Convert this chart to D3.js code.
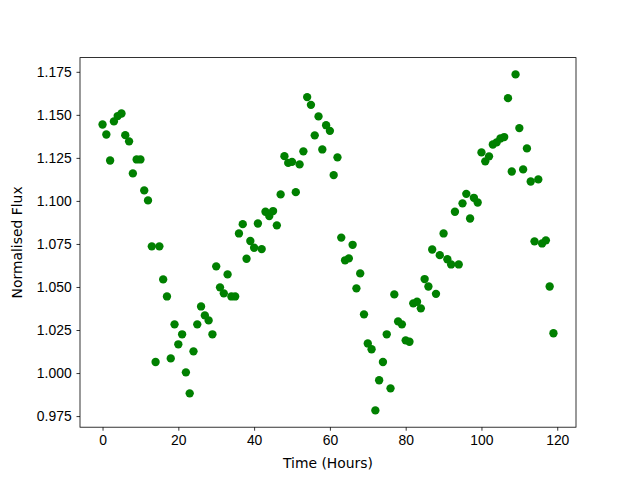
<!DOCTYPE html>
<html>
<head>
<meta charset="utf-8">
<script src="https://cdn.jsdelivr.net/npm/d3@7"></script>
<style>
  body { margin: 0; background: #fff; }
  svg { display: block; font-family: "DejaVu Sans", sans-serif; }
  .tick text { font-size: 13.9px; fill: #000; }
  .tick line { stroke: #000; stroke-width: 0.8; }
</style>
</head>
<body>
<svg id="chart" width="640" height="480"></svg>
<script>
// time in hours
const hours = [
  0, 1, 2, 3, 4, 5, 6, 7, 8, 9, 10, 11, 12, 13, 14, 15, 16, 17, 18, 19,
  20, 21, 22, 23, 24, 25, 26, 27, 28, 29, 30, 31, 32, 33, 34, 35, 36, 37, 38, 39,
  40, 41, 42, 43, 44, 45, 46, 47, 48, 49, 50, 51, 52, 53, 54, 55, 56, 57, 58, 59,
  60, 61, 62, 63, 64, 65, 66, 67, 68, 69, 70, 71, 72, 73, 74, 75, 76, 77, 78, 79,
  80, 81, 82, 83, 84, 85, 86, 87, 88, 89, 90, 91, 92, 93, 94, 95, 96, 97, 98, 99,
  100, 101, 102, 103, 104, 105, 106, 107, 108, 109, 110, 111, 112, 113, 114, 115, 116, 117, 118, 119
];

// normalised flux
const flux = [
  1.1444, 1.1386, 1.1235, 1.1462, 1.1493, 1.1508, 1.1382, 1.1346, 1.1160, 1.1241,
  1.1241, 1.1061, 1.1003, 1.0736, 1.0064, 1.0736, 1.0544, 1.0445, 1.0085, 1.0283,
  1.0167, 1.0225, 1.0004, 0.9882, 1.0126, 1.0283, 1.0387, 1.0335, 1.0306, 1.0225,
  1.0620, 1.0498, 1.0463, 1.0573, 1.0445, 1.0445, 1.0811, 1.0865, 1.0664, 1.0767,
  1.0728, 1.0869, 1.0720, 1.0937, 1.0912, 1.0941, 1.0858, 1.1038, 1.1260, 1.1221,
  1.1227, 1.1051, 1.1212, 1.1288, 1.1603, 1.1558, 1.1381, 1.1491, 1.1299, 1.1440,
  1.1407, 1.1150, 1.1253, 1.0787, 1.0655, 1.0666, 1.0745, 1.0492, 1.0579, 1.0341,
  1.0172, 1.0138, 0.9783, 0.9958, 1.0064, 1.0225, 0.9911, 1.0457, 1.0300, 1.0283,
  1.0190, 1.0182, 1.0405, 1.0414, 1.0376, 1.0546, 1.0503, 1.0718, 1.0460, 1.0685,
  1.0811, 1.0661, 1.0631, 1.0937, 1.0631, 1.0986, 1.1041, 1.0898, 1.1018, 1.0991,
  1.1282, 1.1230, 1.1259, 1.1328, 1.1340, 1.1363, 1.1371, 1.1597, 1.1171, 1.1735,
  1.1423, 1.1183, 1.1305, 1.1113, 1.0765, 1.1125, 1.0753, 1.0771, 1.0503, 1.0231
];

const xTicks = [0, 20, 40, 60, 80, 100, 120];
const yTicks = [0.975, 1.000, 1.025, 1.050, 1.075, 1.100, 1.125, 1.150, 1.175];

const xLabel = "Time (Hours)";
const yLabel = "Normalised Flux";

const data = hours.map((h, i) => ({ t: h, f: flux[i] }));

// axes box like matplotlib's default subplot
const plotLeft = 80, plotRight = 576, plotTop = 57.6, plotBottom = 427.2;

// matplotlib style 5% margins
function padded(ext) {
  const m = (ext[1] - ext[0]) * 0.05;
  return [ext[0] - m, ext[1] + m];
}

const xScale = d3.scaleLinear()
  .domain(padded(d3.extent(data, d => d.t)))
  .range([plotLeft, plotRight]);

const yScale = d3.scaleLinear()
  .domain(padded(d3.extent(data, d => d.f)))
  .range([plotBottom, plotTop]);

const svg = d3.select("#chart");

svg.append("g")
  .attr("transform", `translate(0,${plotBottom})`)
  .call(d3.axisBottom(xScale).tickValues(xTicks).tickSize(3.5).tickPadding(4.9).tickFormat(d3.format("d")))
  .call(g => g.select(".domain").remove());

svg.append("g")
  .attr("transform", `translate(${plotLeft},0)`)
  .call(d3.axisLeft(yScale).tickValues(yTicks).tickSize(3.5).tickPadding(4.9).tickFormat(d3.format(".3f")))
  .call(g => g.select(".domain").remove());

svg.selectAll(".tick text").attr("font-family", null).attr("font-size", null);

svg.append("g")
  .selectAll("circle")
  .data(data)
  .enter()
  .append("circle")
  .attr("cx", d => xScale(d.t))
  .attr("cy", d => yScale(d.f))
  .attr("r", 4.17)
  .attr("fill", "#008000");

// frame
svg.append("rect")
  .attr("x", plotLeft)
  .attr("y", plotTop)
  .attr("width", plotRight - plotLeft)
  .attr("height", plotBottom - plotTop)
  .attr("fill", "none")
  .attr("stroke", "#000")
  .attr("stroke-width", 0.8);

svg.append("text")
  .attr("x", (plotLeft + plotRight) / 2)
  .attr("y", 468)
  .attr("text-anchor", "middle")
  .attr("font-size", "13.9px")
  .text(xLabel);

svg.append("text")
  .attr("transform", `translate(21.5,${(plotTop + plotBottom) / 2}) rotate(-90)`)
  .attr("text-anchor", "middle")
  .attr("font-size", "13.9px")
  .text(yLabel);
</script>
</body>
</html>
